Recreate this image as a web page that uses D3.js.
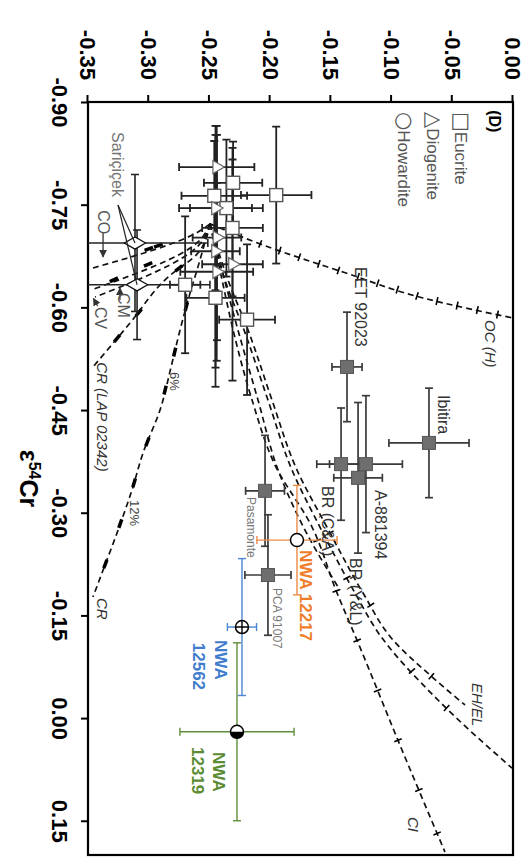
<!DOCTYPE html>
<html>
<head>
<meta charset="utf-8">
<script src="https://cdn.jsdelivr.net/npm/d3@7"></script>
<style>
  body { margin: 0; background: #fff; }
  text { font-family: Arial, "Liberation Sans", Helvetica, sans-serif; }
  .tick text { font-size: 22px; font-weight: bold; fill: #000; }
  .leg { font-size: 17px; fill: #555; }
  .lab { font-size: 16px; fill: #333; }
  .mix { font-size: 15px; fill: #333; font-style: italic; }
  .small { font-size: 12px; fill: #777; }
  .pct { font-size: 13px; fill: #444; }
</style>
</head>
<body>
<div id="chart"></div>
<script>
// tick values
var epsTicks = [-0.90, -0.75, -0.60, -0.45, -0.30, -0.15, 0.00, 0.15];
var d17Ticks = [-0.35, -0.30, -0.25, -0.20, -0.15, -0.10, -0.05, 0.00];

// points: [e54Cr, D17O, e54Cr err, D17O err]
var eucrites = [
  [-0.782, -0.2305, 0.06, 0.024],
  [-0.763, -0.246, 0.08, 0.027],
  [-0.764, -0.195, 0.10, 0.029],
  [-0.745, -0.236, 0.10, 0.030],
  [-0.716, -0.231, 0.10, 0.025],
  [-0.633, -0.270, 0.10, 0.0125],
  [-0.614, -0.245, 0.13, 0.024],
  [-0.582, -0.219, 0.11, 0.023]
];
var diogenites = [
  [-0.805, -0.244, 0.06, 0.031],
  [-0.745, -0.245, 0.12, 0.030],
  [-0.702, -0.2438, 0.15, 0.020],
  [-0.663, -0.231, 0.17, 0.025],
  [-0.682, -0.245, 0.17, 0.020],
  [-0.652, -0.244, 0.13, 0.030]
];
var saricicek = [
  [-0.694, -0.3113, 0.10, 0.06],
  [-0.633, -0.3096, 0.08, 0.06]
];
var anomalous = [
  [-0.513, -0.1367, 0.08, 0.0124],   // EET 92023
  [-0.402, -0.0692, 0.08, 0.033],    // Ibitira
  [-0.371, -0.1416, 0.082, 0.02],    // BR
  [-0.371, -0.1211, 0.10, 0.03],     // A-881394
  [-0.351, -0.1276, 0.11, 0.02],     // BR
  [-0.332, -0.2042, 0.081, 0.016],   // Pasamonte
  [-0.209, -0.2018, 0.088, 0.019]    // PCA 91007
];
var nwa12217 = [-0.260, -0.1779, 0.080, 0.033];
var nwa12562 = [-0.133, -0.2232, 0.10, 0.012];
var nwa12319 = [0.020, -0.2273, 0.13, 0.047];

// mixing lines HED - chondrite: [e54Cr, D17O]
var mixOC = [[-0.722,-0.2495],[-0.6911,-0.2059],[-0.6516,-0.1400],[-0.6137,-0.0741],[-0.5844,0]];
var mixCI = [[-0.722,-0.2495],[-0.640,-0.2396],[-0.5669,-0.2305],[-0.4647,-0.2149],[-0.3697,-0.1960],[-0.2791,-0.1655],[-0.1827,-0.1449],[-0.1140,-0.1285],[0.0394,-0.0931],[0.1957,-0.0560]];
var mixEHa = [[-0.722,-0.2495],[-0.640,-0.2347],[-0.5669,-0.2182],[-0.4647,-0.1985],[-0.3624,-0.1779],[-0.2791,-0.1532],[-0.1827,-0.1235],[-0.1140,-0.0988],[-0.0629,-0.0684],[-0.0191,-0.0395]];
var mixEHb = [[-0.722,-0.2495],[-0.640,-0.2372],[-0.5669,-0.2215],[-0.4647,-0.2018],[-0.3624,-0.1820],[-0.2791,-0.1590],[-0.1827,-0.1301],[-0.1213,-0.1096],[-0.0264,-0.0618],[0.0730,-0.0008]];
var mixBR = [[-0.722,-0.2495],[-0.5669,-0.2265],[-0.4647,-0.2100],[-0.3624,-0.1935],[-0.2747,-0.1713],[-0.1871,-0.1425]];
var mixCO = [[-0.722,-0.2495],[-0.7101,-0.2594],[-0.6575,-0.3459]];
var mixCM = [[-0.722,-0.2495],[-0.6955,-0.2594],[-0.6254,-0.3475]];
var mixCV = [[-0.722,-0.2495],[-0.6896,-0.2594],[-0.6151,-0.3442]];
var mixCRL = [[-0.722,-0.2495],[-0.6794,-0.2594],[-0.6443,-0.2841],[-0.5771,-0.3154],[-0.5129,-0.3459]];
var mixCR = [[-0.722,-0.2495],[-0.6692,-0.2578],[-0.6107,-0.2676],[-0.5669,-0.2742],[-0.5187,-0.2808],[-0.4500,-0.2907],[-0.3872,-0.3047],[-0.3332,-0.3138],[-0.2704,-0.3261],[-0.2119,-0.3385],[-0.1769,-0.3459]];

// tick marks along the lines (fraction of length)
var lines = [
  { pts: mixOC, ticks: [0.17,0.235,0.30,0.365,0.43,0.495,0.56,0.625,0.69,0.755,0.82,0.885,0.95], kind: 'cross' },
  { pts: mixCI, ticks: [0.5,0.58,0.66,0.74,0.82,0.9,0.97], kind: 'cross' },
  { pts: mixEHa, ticks: [0.6,0.75,0.92], kind: 'cross' },
  { pts: mixEHb, ticks: [0.6,0.78,0.86], kind: 'cross' },
  { pts: mixBR, ticks: [], kind: 'cross' },
  { pts: mixCO, ticks: [0.45,0.53], kind: 'bar' },
  { pts: mixCM, ticks: [0.55,0.82], kind: 'bar' },
  { pts: mixCV, ticks: [], kind: 'bar' },
  { pts: mixCRL, ticks: [0.3,0.62,0.8], kind: 'bar' },
  { pts: mixCR, ticks: [0.22,0.34,0.44,0.58,0.69,0.8,0.91], kind: 'bar' }
];

// legend entries: [symbol, text, D17O at baseline]
var legendRows = [
  ['\u25A1', 'Eucrite', -0.0478],
  ['\u25B3', 'Diogenite', -0.0708],
  ['\u25CB', 'Howardite', -0.0947]
];

// text labels: [text, e54Cr at start, D17O at baseline, class, colour]
var notes = [
  ['(D)', -0.888, -0.0198, 'lab', '#000'],
  ['EET 92023', -0.659, -0.1301, 'lab', null],
  ['OC (H)', -0.5815, -0.0231, 'mix', null],
  ['Ibitira', -0.472, -0.0618, 'lab', null],
  ['A-881394', -0.3332, -0.1137, 'lab', null],
  ['BR (C&A)', -0.339, -0.1573, 'lab', null],
  ['BR (Y&L)', -0.2338, -0.1342, 'lab', null],
  ['Pasamonte', -0.323, -0.2191, 'small', null],
  ['PCA 91007', -0.190, -0.1976, 'small', null],
  ['Sari\u00E7i\u00E7ek', -0.856, -0.3302, 'lab', '#777'],
  ['CO', -0.742, -0.3418, 'lab', '#555'],
  ['CM', -0.621, -0.3253, 'lab', '#555'],
  ['CV', -0.6005, -0.3442, 'lab', '#555'],
  ['CR (LAP 02342)', -0.520, -0.3426, 'mix', null],
  ['6%', -0.5056, -0.2825, 'pct', null],
  ['12%', -0.3186, -0.3154, 'pct', null],
  ['CR', -0.1754, -0.3426, 'mix', null],
  ['EH/EL', -0.0512, -0.0338, 'mix', null],
  ['CI', 0.1445, -0.0865, 'mix', null]
];
var nwaNotes = [
  ['NWA 12217', -0.2455, -0.1754, '#ef7d2a'],
  ['NWA', -0.114, -0.2454, '#3f7ccc'],
  ['12562', -0.110, -0.2635, '#3f7ccc'],
  ['NWA', 0.0496, -0.2471, '#5b8c33'],
  ['12319', 0.0423, -0.2643, '#5b8c33']
];

var W = 753, H = 425;
var svg = d3.select('#chart').append('svg')
  .attr('width', 530).attr('height', 867);

// whole plot drawn upright, then turned a quarter clockwise
var g = svg.append('g').attr('transform', 'translate(513,102) rotate(90)');

var x = d3.scaleLinear().domain([-0.9, 0.2]).range([0, W]);
var y = d3.scaleLinear().domain([-0.35, 0]).range([H, 0]);

g.append('clipPath').attr('id', 'clip')
  .append('rect').attr('width', W).attr('height', H);

var fmt = function(d) { return d.toFixed(2); };

var xAxis = g.append('g').attr('transform', 'translate(0,' + H + ')')
  .call(d3.axisBottom(x).tickValues(epsTicks).tickFormat(fmt).tickSize(7).tickSizeOuter(0).tickPadding(13));
var yAxis = g.append('g')
  .call(d3.axisLeft(y).tickValues(d17Ticks).tickFormat(fmt).tickSize(7).tickSizeOuter(0).tickPadding(15));
[xAxis, yAxis].forEach(function(a) {
  a.attr('font-family', null).attr('font-size', null);
  a.select('.domain').remove();
  a.selectAll('.tick line').attr('stroke', '#000').attr('stroke-width', 2);
});

g.append('rect').attr('width', W).attr('height', H)
  .attr('fill', 'none').attr('stroke', '#000').attr('stroke-width', 2.2);

g.append('text')
  .attr('x', W / 2).attr('y', H + 68)
  .attr('text-anchor', 'middle')
  .style('font-size', '25px').style('font-weight', 'bold')
  .html('\u03B5<tspan dy="-9" font-size="16">54</tspan><tspan dy="9">Cr</tspan>');

var plot = g.append('g').attr('clip-path', 'url(#clip)');

// mixing lines
var line = d3.line().curve(d3.curveMonotoneX)
  .x(function(d) { return x(d[0]); }).y(function(d) { return y(d[1]); });
lines.forEach(function(L) {
  plot.append('path').attr('d', line(L.pts))
    .attr('fill', 'none').attr('stroke', '#111').attr('stroke-width', 1.7)
    .attr('stroke-dasharray', '6,4');
  var px = L.pts.map(function(d) { return [x(d[0]), y(d[1])]; });
  var cum = [0];
  for (var i = 1; i < px.length; i++) {
    cum.push(cum[i - 1] + Math.hypot(px[i][0] - px[i - 1][0], px[i][1] - px[i - 1][1]));
  }
  var total = cum[cum.length - 1];
  L.ticks.forEach(function(t) {
    var s = t * total, k = 1;
    while (k < cum.length - 1 && cum[k] < s) k++;
    var a = px[k - 1], b = px[k];
    var f = (s - cum[k - 1]) / (cum[k] - cum[k - 1]);
    var cx = a[0] + (b[0] - a[0]) * f, cy = a[1] + (b[1] - a[1]) * f;
    var len = Math.hypot(b[0] - a[0], b[1] - a[1]);
    var dx = (b[0] - a[0]) / len, dy = (b[1] - a[1]) / len;
    if (L.kind === 'bar') {
      plot.append('line')
        .attr('x1', cx - dx * 4.5).attr('y1', cy - dy * 4.5)
        .attr('x2', cx + dx * 4.5).attr('y2', cy + dy * 4.5)
        .attr('stroke', '#000').attr('stroke-width', 3.5);
    } else {
      plot.append('line')
        .attr('x1', cx + dy * 4).attr('y1', cy - dx * 4)
        .attr('x2', cx - dy * 4).attr('y2', cy + dx * 4)
        .attr('stroke', '#000').attr('stroke-width', 1.6);
    }
  });
});

// error bars
function errorBars(data, colour, w) {
  var cap = 4;
  data.forEach(function(d) {
    var gg = plot.append('g').attr('stroke', colour).attr('stroke-width', w);
    var x0 = x(d[0] - d[2]), x1 = x(d[0] + d[2]), yc = y(d[1]);
    var y0 = y(d[1] - d[3]), y1 = y(d[1] + d[3]), xc = x(d[0]);
    gg.append('line').attr('x1', x0).attr('x2', x1).attr('y1', yc).attr('y2', yc);
    gg.append('line').attr('x1', x0).attr('x2', x0).attr('y1', yc - cap).attr('y2', yc + cap);
    gg.append('line').attr('x1', x1).attr('x2', x1).attr('y1', yc - cap).attr('y2', yc + cap);
    gg.append('line').attr('x1', xc).attr('x2', xc).attr('y1', y0).attr('y2', y1);
    gg.append('line').attr('x1', xc - cap).attr('x2', xc + cap).attr('y1', y0).attr('y2', y0);
    gg.append('line').attr('x1', xc - cap).attr('x2', xc + cap).attr('y1', y1).attr('y2', y1);
  });
}

errorBars(eucrites, '#222', 1.8);
errorBars(diogenites, '#222', 1.8);
errorBars(saricicek, '#222', 1.6);
errorBars(anomalous, '#3a3a3a', 1.7);
errorBars([nwa12217], '#ef8a44', 1.4);
errorBars([nwa12562], '#4a86d0', 1.4);
errorBars([nwa12319], '#5f8f3a', 1.4);

// markers
var sq = 13;
plot.selectAll('.anom').data(anomalous).enter().append('rect')
  .attr('x', function(d) { return x(d[0]) - sq / 2; })
  .attr('y', function(d) { return y(d[1]) - sq / 2; })
  .attr('width', sq).attr('height', sq)
  .attr('fill', '#6e6e6e').attr('stroke', '#555').attr('stroke-width', 1);

plot.selectAll('.euc').data(eucrites).enter().append('rect')
  .attr('x', function(d) { return x(d[0]) - sq / 2; })
  .attr('y', function(d) { return y(d[1]) - sq / 2; })
  .attr('width', sq).attr('height', sq)
  .attr('fill', '#fff').attr('stroke', '#555').attr('stroke-width', 1.4);

var tri = d3.symbol().type(d3.symbolTriangle).size(75);
plot.selectAll('.dio').data(diogenites).enter().append('path')
  .attr('d', tri)
  .attr('transform', function(d) { return 'translate(' + x(d[0]) + ',' + y(d[1]) + ')'; })
  .attr('fill', '#fff').attr('stroke', '#666').attr('stroke-width', 1.2);

var dia = d3.symbol().type(d3.symbolDiamond).size(130);
plot.selectAll('.sar').data(saricicek).enter().append('path')
  .attr('d', dia)
  .attr('transform', function(d) { return 'translate(' + x(d[0]) + ',' + y(d[1]) + ')'; })
  .attr('fill', '#fff').attr('stroke', '#111').attr('stroke-width', 1.3);

// Saricicek leader lines
var leadFrom = [x(-0.7495), y(-0.3253)];
saricicek.forEach(function(d) {
  g.append('line').attr('x1', leadFrom[0]).attr('y1', leadFrom[1])
    .attr('x2', x(d[0])).attr('y2', y(d[1]))
    .attr('stroke', '#222').attr('stroke-width', 1.2);
});

// NWA samples
var r = 6.5;
plot.append('circle').attr('cx', x(nwa12217[0])).attr('cy', y(nwa12217[1])).attr('r', r)
  .attr('fill', '#fff').attr('stroke', '#000').attr('stroke-width', 1.5);

var c2 = [x(nwa12562[0]), y(nwa12562[1])];
plot.append('circle').attr('cx', c2[0]).attr('cy', c2[1]).attr('r', r)
  .attr('fill', '#fff').attr('stroke', '#000').attr('stroke-width', 1.5);
plot.append('path')
  .attr('d', 'M' + (c2[0] - r) + ',' + c2[1] + 'H' + (c2[0] + r) + 'M' + c2[0] + ',' + (c2[1] - r) + 'V' + (c2[1] + r))
  .attr('stroke', '#000').attr('stroke-width', 1.4);

var c3 = [x(nwa12319[0]), y(nwa12319[1])];
plot.append('circle').attr('cx', c3[0]).attr('cy', c3[1]).attr('r', r)
  .attr('fill', '#fff').attr('stroke', '#000').attr('stroke-width', 1.5);
plot.append('path')
  .attr('d', 'M' + c3[0] + ',' + (c3[1] - r) + 'A' + r + ',' + r + ' 0 0,1 ' + c3[0] + ',' + (c3[1] + r) + 'Z')
  .attr('fill', '#000');

// arrows for CO / CM / CV
var defs = svg.append('defs');
defs.append('marker').attr('id', 'arr').attr('viewBox', '0 0 10 10')
  .attr('refX', 9).attr('refY', 5).attr('markerWidth', 6).attr('markerHeight', 6)
  .attr('orient', 'auto')
  .append('path').attr('d', 'M0,0L10,5L0,10Z').attr('fill', '#333');
var arrows = [
  [[-0.7086, -0.3376], [-0.6736, -0.3376]],
  [[-0.6107, -0.3237], [-0.6283, -0.3237]],
  [[-0.6020, -0.3420], [-0.6130, -0.3455]]
];
arrows.forEach(function(a) {
  g.append('line').attr('x1', x(a[0][0])).attr('y1', y(a[0][1]))
    .attr('x2', x(a[1][0])).attr('y2', y(a[1][1]))
    .attr('stroke', '#333').attr('stroke-width', 1.3).attr('marker-end', 'url(#arr)');
});

// legend
var legT = g.selectAll('.legrow').data(legendRows).enter().append('text')
  .attr('class', 'leg')
  .attr('x', x(-0.8854))
  .attr('y', function(d) { return y(d[2]); });
legT.append('tspan').style('font-size', '21px').style('font-family', '"DejaVu Sans", sans-serif')
  .text(function(d) { return d[0]; });
legT.append('tspan').text(function(d) { return d[1]; });

// labels
g.selectAll('.note').data(notes).enter().append('text')
  .attr('class', function(d) { return d[3]; })
  .attr('x', function(d) { return x(d[1]); })
  .attr('y', function(d) { return y(d[2]); })
  .style('fill', function(d) { return d[4]; })
  .style('font-weight', function(d) { return d[0] === '(D)' ? 'bold' : null; })
  .text(function(d) { return d[0]; });

g.selectAll('.nwa').data(nwaNotes).enter().append('text')
  .attr('x', function(d) { return x(d[1]); })
  .attr('y', function(d) { return y(d[2]); })
  .style('fill', function(d) { return d[3]; })
  .style('font-size', '17px').style('font-weight', 'bold')
  .text(function(d) { return d[0]; });
</script>
</body>
</html>
